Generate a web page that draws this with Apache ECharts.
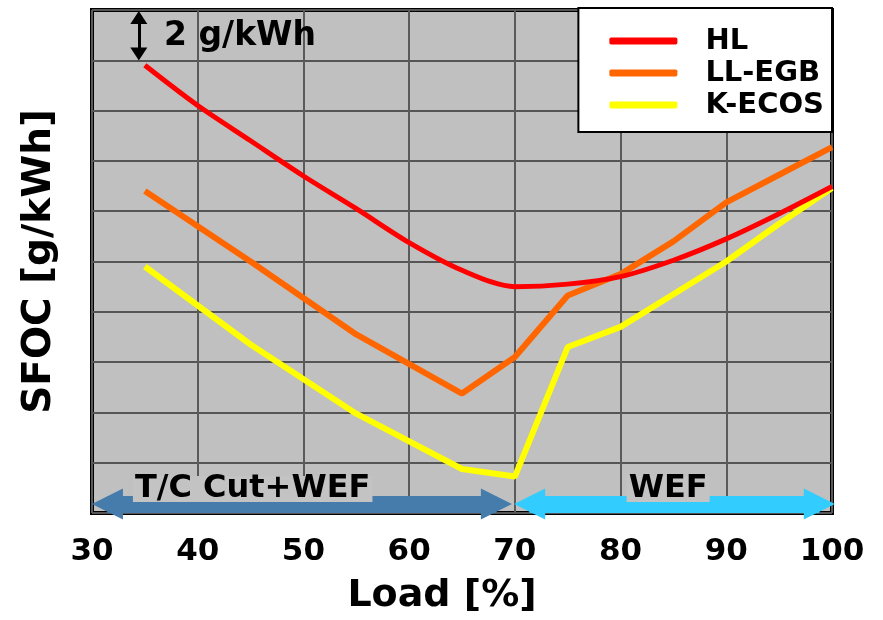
<!DOCTYPE html>
<html>
<head>
<meta charset="utf-8">
<script src="https://cdn.jsdelivr.net/npm/echarts@6/dist/echarts.min.js"></script>
<style>
  html, body { margin: 0; padding: 0; background: #ffffff; }
  #chart { width: 883px; height: 620px; }
</style>
</head>
<body>
<div id="chart"></div>
<script>
// load [%] and SFOC (relative, 2 g/kWh per grid step)
var hlLoad = [35, 40, 45, 50, 55, 60, 65, 70, 75, 80, 85, 90, 95, 100];
var hlSfoc = [17.8, 16.2, 14.8, 13.4, 12.1, 10.75, 9.65, 9.0, 9.1, 9.4, 10.05, 10.9, 11.9, 12.98];

var llLoad = [35, 45, 55, 65, 70, 75, 80, 85, 90, 95, 100];
var llSfoc = [12.8, 10.0, 7.1, 4.75, 6.2, 8.65, 9.5, 10.8, 12.35, 13.45, 14.55];

var keLoad = [35, 45, 55, 65, 70, 75, 80, 85, 90, 95, 100];
var keSfoc = [9.8, 6.7, 3.95, 1.75, 1.45, 6.6, 7.4, 8.7, 10.0, 11.5, 12.92];

var xTicks = [30, 40, 50, 60, 70, 80, 90, 100];

function pairs(xs, ys) {
  return xs.map(function (x, i) { return [x, ys[i]]; });
}

var FONT = 'DejaVu Sans';

option = {
  backgroundColor: '#ffffff',
  animation: false,
  grid: {
    left: 92,
    right: 51,
    top: 10,
    bottom: 102,
    show: true,
    backgroundColor: '#c0c0c0',
    borderColor: '#000000',
    borderWidth: 4
  },
  legend: {
    data: ['HL', 'LL-EGB', 'K-ECOS'],
    orient: 'vertical',
    right: 51,
    top: 8,
    backgroundColor: '#ffffff',
    borderColor: '#000000',
    borderWidth: 2,
    padding: [18, 8, 12, 31],
    icon: 'roundRect',
    itemWidth: 68,
    itemHeight: 7,
    itemGap: 2,
    textStyle: {
      fontFamily: FONT,
      fontWeight: 'bold',
      fontSize: 29,
      color: '#000000',
      lineHeight: 30,
      padding: [0, 0, 0, 23]
    }
  },
  xAxis: {
    type: 'value',
    min: 30,
    max: 100,
    interval: 10,
    name: 'Load [%]',
    nameLocation: 'middle',
    nameGap: 64,
    nameTextStyle: {
      fontFamily: FONT,
      fontWeight: 'bold',
      fontSize: 38,
      color: '#000000',
      padding: [0, 40, 0, 0]
    },
    axisLine: { show: false },
    axisTick: { show: false },
    axisLabel: {
      margin: 23,
      fontFamily: FONT,
      fontWeight: 'bold',
      fontSize: 31,
      color: '#000000',
      customValues: xTicks
    },
    splitLine: { show: true, lineStyle: { color: '#5a5a5a', width: 2 } }
  },
  yAxis: {
    type: 'value',
    min: 0,
    max: 20,
    interval: 2,
    name: 'SFOC [g/kWh]',
    nameLocation: 'middle',
    nameGap: 33,
    nameTextStyle: {
      fontFamily: FONT,
      fontWeight: 'bold',
      fontSize: 39,
      color: '#000000'
    },
    axisLine: { show: false },
    axisTick: { show: false },
    axisLabel: { show: false },
    splitLine: { show: true, lineStyle: { color: '#555555', width: 2 } }
  },
  series: [
    {
      name: 'HL',
      type: 'line',
      data: pairs(hlLoad, hlSfoc),
      smooth: 0.3,
      symbol: 'none',
      color: '#ff0000',
      lineStyle: { width: 5, color: '#ff0000' },
      z: 3
    },
    {
      name: 'LL-EGB',
      type: 'line',
      data: pairs(llLoad, llSfoc),
      symbol: 'none',
      color: '#ff6600',
      lineStyle: { width: 6, color: '#ff6600' },
      z: 2
    },
    {
      name: 'K-ECOS',
      type: 'line',
      data: pairs(keLoad, keSfoc),
      symbol: 'none',
      color: '#ffff00',
      lineStyle: { width: 6, color: '#ffff00' },
      z: 1,
      markPoint: {
        silent: true,
        symbol: 'rect',
        symbolSize: 1,
        itemStyle: { color: 'rgba(0,0,0,0)' },
        label: {
          show: true,
          position: 'inside',
          fontFamily: FONT,
          fontWeight: 'bold',
          color: '#000000'
        },
        data: [
          { coord: [44.0, 18.95], label: { formatter: '2 g/kWh', fontSize: 33 } },
          { coord: [45.2, 0.95], label: { formatter: 'T/C Cut+WEF', fontSize: 32, lineHeight: 26, backgroundColor: '#c3c3c3', padding: [0, 2, 0, 2] } },
          { coord: [84.5, 0.95], label: { formatter: 'WEF', fontSize: 32, lineHeight: 26, backgroundColor: '#c3c3c3', padding: [0, 2, 0, 2] } }
        ]
      }
    },
    {
      name: 'arrows',
      type: 'line',
      data: [],
      z: 5,
      markLine: {
        silent: true,
        symbol: ['triangle', 'triangle'],
        label: { show: false },
        emphasis: { disabled: true },
        data: [
          [
            { coord: [34.43, 19.7], symbolSize: [17, 13], lineStyle: { color: '#000000', width: 3, type: 'solid' } },
            { coord: [34.43, 18.25], symbolSize: [17, 13] }
          ],
          [
            { coord: [31.46, 0.36], symbolSize: [31, 31], lineStyle: { color: '#457cab', width: 17, type: 'solid' } },
            { coord: [68.25, 0.36], symbolSize: [31, 31] }
          ],
          [
            { coord: [71.4, 0.36], symbolSize: [31, 31], lineStyle: { color: '#33ccff', width: 17, type: 'solid' } },
            { coord: [98.8, 0.36], symbolSize: [31, 31] }
          ]
        ]
      }
    }
  ]
};

var myChart = echarts.init(document.getElementById('chart'));
myChart.setOption(option);
</script>
</body>
</html>
